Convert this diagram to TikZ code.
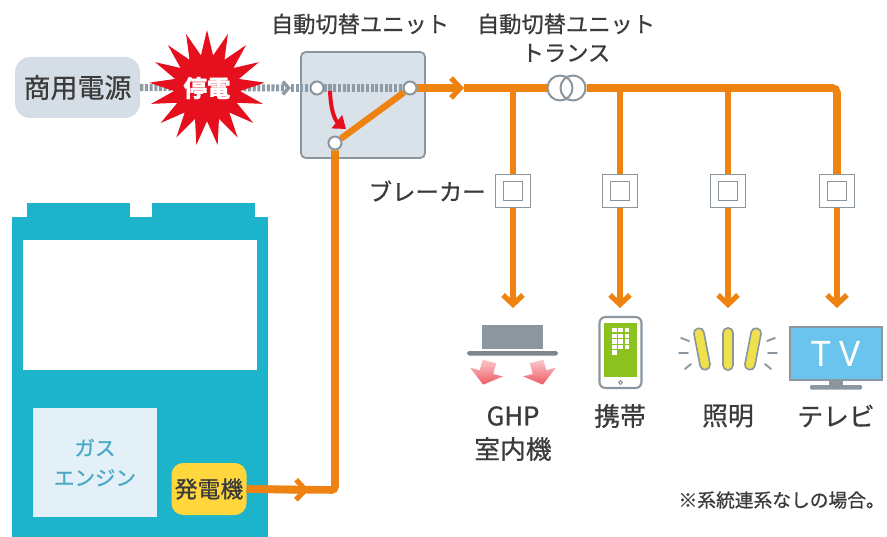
\documentclass[tikz,border=0pt]{standalone}
\usepackage{fontspec}
\setmainfont{Noto Sans CJK JP}[RawFeature={embolden=0.7}]
\newfontfamily\latinsans{Noto Sans}
\usetikzlibrary{arrows.meta,shapes.geometric}

\definecolor{txt}{HTML}{3B3B3B}
\definecolor{orng}{HTML}{EE8311}
\definecolor{feed}{HTML}{8D9BA5}
\definecolor{srcfill}{HTML}{D5DEE6}
\definecolor{unitfill}{HTML}{D9E1E9}
\definecolor{frame}{HTML}{8A959E}
\definecolor{tealbody}{HTML}{1DB4CB}
\definecolor{gasfill}{HTML}{E3F0F7}
\definecolor{gastext}{HTML}{48A9C4}
\definecolor{genyellow}{HTML}{FFD73C}
\definecolor{alert}{HTML}{E60F1E}
\definecolor{screen}{HTML}{8CC220}
\definecolor{tvblue}{HTML}{6BC4EE}
\definecolor{acgrey}{HTML}{8B969E}
\definecolor{pinkl}{HTML}{FBC9CB}
\definecolor{pinkd}{HTML}{EE5A64}
\definecolor{lampy}{HTML}{EEE14A}

\def\pxu{0.03cm}

\tikzset{
  chev/.tip={Straight Barb[length=8pt,width=17pt,line width=4.5pt]},
  chevs/.tip={Straight Barb[length=5pt,width=11pt,line width=3pt]},
  lbl/.style={font=\fontsize{19pt}{22pt}\selectfont, text=txt, inner sep=0pt},
  devlbl/.style={font=\fontsize{22pt}{26pt}\selectfont, text=txt, inner sep=0pt},
  mainline/.style={draw=orng, line width=6.5pt},
  branchline/.style={draw=orng, line width=5pt},
  feedline/.style={draw=feed, line width=6pt, dash pattern=on 2.6pt off 1.4pt},
  srcbox/.style={rounded corners=13pt, fill=srcfill, minimum width=125*\pxu,
    minimum height=61*\pxu, inner sep=0pt, text=txt,
    font=\fontsize{23pt}{26pt}\selectfont},
  unitbox/.style={rounded corners=4pt, fill=unitfill, draw=frame, line width=1.5pt,
    minimum width=124*\pxu, minimum height=106*\pxu},
  contact/.style={circle, fill=white, draw=frame, line width=1.7pt,
    minimum size=13*\pxu, inner sep=0pt},
  coil/.style={circle, draw=frame, line width=1.7pt, minimum size=25*\pxu, inner sep=0pt},
  breaker/.style={rectangle, fill=white, draw=frame, line width=1.3pt,
    minimum width=35*\pxu, minimum height=33*\pxu, inner sep=0pt,
    path picture={\draw[frame, line width=1.3pt]
      ([shift={(-9.5,-9.5)}]path picture bounding box.center) rectangle
      ([shift={(9.5,9.5)}]path picture bounding box.center);}},
  lampbar/.style={rectangle, rounded corners=4pt, fill=lampy, draw=acgrey,
    line width=1.4pt, minimum width=10*\pxu, minimum height=42*\pxu, inner sep=0pt},
  ray/.style={draw=acgrey, line width=1.6pt, line cap=round},
  airflow/.style={top color=pinkl, bottom color=pinkd},
}

\begin{document}
\begin{tikzpicture}[x=0.03cm, y=-0.03cm]
\useasboundingbox (0,0) rectangle (887,537);

% ---- gas engine package ----
\fill[tealbody] (27,203) rectangle (130,218);
\fill[tealbody] (152,203) rectangle (255,218);
\fill[tealbody] (12,217) rectangle (268,537);
\fill[white] (23,240) rectangle (257,370);
\node[fill=gasfill, minimum width=124*\pxu, minimum height=109*\pxu, inner sep=0pt,
  text=gastext, align=center, font=\fontsize{17.5pt}{25.5pt}\selectfont]
  (gas) at (95,462.5) {ガス\\エンジン};
\node[fill=genyellow, rounded corners=10pt, minimum width=75*\pxu, minimum height=52*\pxu,
  inner sep=0pt, text=txt, font=\fontsize{19.5pt}{22pt}\selectfont]
  (gen) at (209,489) {発電機};

% ---- commercial supply and switching unit ----
\node[srcbox] (src) at (77.5,87.5) {商用電源};
\node[unitbox] (atu) at (363,105) {};
\node[lbl] (atulbl) at (360,24) {自動切替ユニット};
\node[lbl] (trlbl) at (566,24) {自動切替ユニット};
\node[lbl] (trlbl2) at (566,53) {トランス};

\coordinate (ftip) at (291,88);
\draw[feedline, -chevs] (src.east) -- (ftip);
\draw[feedline] (ftip) -- (410,88);

\node[star, star points=17, star point ratio=1.75, fill=alert, minimum size=108*\pxu,
  inner sep=0pt, text=white, font=\bfseries\fontsize{20pt}{22pt}\selectfont]
  (burst) at (207,88) {停電};

\node[contact] (c1) at (317,88) {};
\node[contact] (c2) at (410,88) {};
\node[contact] (c3) at (335,143) {};
\draw[orng, line width=5.5pt] (c3) -- (c2);

% outage: the switch drops to the generator side
\coordinate (rs) at (330,91);
\coordinate (re) at (346,129);
\draw[alert, line width=3.4pt, -{Triangle[length=10pt,width=14pt]}]
  (rs) .. controls (331,114) and (336,121) .. (re);

% ---- generator feed ----
\coordinate (gjoin) at (335,490);
\coordinate (garr) at (309,490);
\draw[mainline, rounded corners=3pt] (gen.east) -- (gjoin) -- (c3.south);
\draw[mainline, -chev] (gen.east) -- (garr);

% ---- distribution line ----
\node[coil] (t1) at (560,88) {};
\node[coil] (t2) at (573,88) {};
\coordinate (marr) at (464,88);
\coordinate (j1) at (513,88);
\coordinate (j2) at (620,88);
\coordinate (j3) at (728,88);
\coordinate (cr) at (837,88);
\draw[mainline, -chev] (c2.east) -- (marr);
\draw[mainline] (marr) -- (t1.west);
\draw[mainline, rounded corners=4pt] (t2.east) -- (cr) -- (837,176);

\node[breaker] (brk1) at (513,191) {};
\node[breaker] (brk2) at (620,191) {};
\node[breaker] (brk3) at (728,191) {};
\node[breaker] (brk4) at (837,191) {};
\node[lbl, anchor=east, font=\fontsize{20pt}{22pt}\selectfont] (brklbl) at (486,191) {ブレーカー};

\draw[branchline] (j1) -- (brk1.north);
\draw[branchline] (j2) -- (brk2.north);
\draw[branchline] (j3) -- (brk3.north);

\coordinate (tip1) at (513,308);
\coordinate (tip2) at (620,308);
\coordinate (tip3) at (728,308);
\coordinate (tip4) at (837,308);
\draw[branchline, -chev] (brk1.south) -- (tip1);
\draw[branchline, -chev] (brk2.south) -- (tip2);
\draw[branchline, -chev] (brk3.south) -- (tip3);
\draw[branchline, -chev] (brk4.south) -- (tip4);

% ---- loads ----
% GHP indoor unit
\node[fill=acgrey, minimum width=61*\pxu, minimum height=24*\pxu, inner sep=0pt]
  (ghp) at (512.5,337) {};
\fill[acgrey!90!black, rounded corners=1.5pt] (467,351) rectangle (558,355.5);
\begin{scope}[shift={(486,374)}, rotate=-15]
  \shade[airflow]
    (-7,-13) -- (7,-13) -- (7,-2) -- (17,-2) -- (0,11) -- (-17,-2) -- (-7,-2) -- cycle;
\end{scope}
\begin{scope}[shift={(540,374)}, rotate=15]
  \shade[airflow]
    (-7,-13) -- (7,-13) -- (7,-2) -- (17,-2) -- (0,11) -- (-17,-2) -- (-7,-2) -- cycle;
\end{scope}

% mobile phone
\node[rectangle, rounded corners=5pt, fill=white, draw=acgrey, line width=1.8pt,
  minimum width=42*\pxu, minimum height=71*\pxu, inner sep=0pt] (phone) at (620.5,352.5) {};
\fill[screen] (604,323) rectangle (637,377);
\foreach \r in {0,1,2,3} {
  \foreach \c in {0,1,2} {
    \fill[white] (612+6.3*\c,328+5.6*\r) rectangle +(4.6,4.4);
  }
}
\fill[white] (612,350.4) rectangle +(4.6,4.4);
\draw[acgrey, line width=0.9pt] (620.5,382.5) circle[radius=1.8];

% lighting
\node[lampbar, rotate=11] (lamp1) at (702,349) {};
\node[lampbar] (lamp2) at (728,349) {};
\node[lampbar, rotate=-11] (lamp3) at (753,349) {};
\draw[ray] (681,338) -- (689,341);
\draw[ray] (679,353) -- (688,353);
\draw[ray] (685,369) -- (691,364);
\draw[ray] (775,338) -- (767,341);
\draw[ray] (777,353) -- (768,353);
\draw[ray] (771,369) -- (765,364);

% television
\fill[acgrey] (829,380) rectangle (843,386);
\fill[acgrey, rounded corners=1pt] (810,385) rectangle (862,389.5);
\node[rectangle, fill=tvblue, draw=acgrey, line width=1.8pt,
  minimum width=92*\pxu, minimum height=53*\pxu, inner sep=0pt, text=white,
  font=\latinsans\fontsize{30pt}{30pt}\selectfont] (tv) at (836,353.5) {T\hspace{7pt}V};

% load names
\node[devlbl] (ghplbl) at (513,416) {GHP};
\node[devlbl] (ghplbl2) at (513,449) {室内機};
\node[devlbl] (phonelbl) at (620,416) {携帯};
\node[devlbl] (lamplbl) at (728,416) {照明};
\node[devlbl] (tvlbl) at (836,416) {テレビ};

\node[lbl, anchor=east, font=\fontsize{16pt}{18pt}\selectfont] (note) at (885,500)
  {※系統連系なしの場合。};
\end{tikzpicture}
\end{document}
